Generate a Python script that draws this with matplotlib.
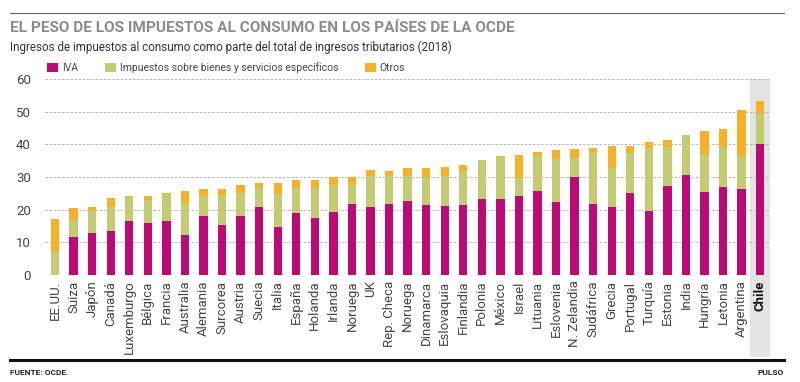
import matplotlib
matplotlib.use("Agg")
import matplotlib.pyplot as plt
from matplotlib.patches import Rectangle
from matplotlib.lines import Line2D
import numpy as np

plt.rcParams['font.family'] = ['Roboto', 'DejaVu Sans']

paises = ["EE.UU.", "Suiza", "Japón", "Canadá", "Luxemburgo", "Bélgica", "Francia",
          "Australia", "Alemania", "Surcorea", "Austria", "Suecia", "Italia", "España",
          "Holanda", "Irlanda", "Noruega", "UK", "Rep. Checa", "Noruega", "Dinamarca",
          "Eslovaquia", "Finlandia", "Polonia", "México", "Israel", "Lituania",
          "Eslovenia", "N. Zelandia", "Sudáfrica", "Grecia", "Portugal", "Turquía",
          "Estonia", "India", "Hungría", "Letonia", "Argentina", "Chile"]

iva = [0.0, 11.7, 13.0, 13.5, 16.5, 16.0, 16.5, 12.2, 18.2, 15.3, 18.2, 20.9, 14.8, 19.1,
       17.6, 19.4, 21.7, 20.8, 21.7, 22.7, 21.4, 21.1, 21.4, 23.2, 23.2, 24.3, 25.7,
       22.3, 30.1, 21.9, 20.9, 25.0, 19.7, 27.2, 30.6, 25.4, 26.9, 26.3, 40.1]

especificos = [7.1, 5.3, 6.8, 7.4, 7.5, 7.0, 8.3, 9.7, 6.0, 9.2, 6.8, 6.1, 9.9, 7.7,
               8.9, 8.2, 6.1, 9.6, 8.6, 7.6, 8.7, 9.3, 10.4, 12.0, 12.9, 5.3, 10.7,
               13.1, 5.8, 15.9, 11.8, 12.4, 19.1, 11.9, 12.3, 11.3, 12.2, 10.2, 9.6]

otros = [10.2, 3.6, 1.1, 2.6, 0.2, 1.2, 0.4, 3.8, 2.0, 1.8, 2.6, 1.1, 3.6, 2.3,
         2.6, 2.5, 2.3, 1.7, 1.6, 2.6, 2.6, 2.6, 1.9, 0.0, 0.2, 7.1, 1.4,
         2.9, 2.7, 1.0, 6.9, 2.2, 2.0, 2.2, 0.0, 7.5, 5.5, 14.0, 3.7]

c_iva = "#BD0A77"
c_esp = "#C4CB70"
c_otr = "#F8B124"

fig = plt.figure(figsize=(8, 3.82), dpi=100)
ax = fig.add_axes([0.056, 0.28, 0.907, 0.513])

x = np.arange(len(paises))
iva_a = np.array(iva)
esp_a = np.array(especificos)
otr_a = np.array(otros)
w = 0.45

# banda gris para Chile
ix_chile = paises.index("Chile")
ax.add_patch(Rectangle((ix_chile - 0.54, -0.42), 1.08, 1.42,
                       transform=ax.get_xaxis_transform(), clip_on=False,
                       facecolor="#E4E4E4", edgecolor="none", zorder=0))

ax.bar(x, iva_a, w, color=c_iva, zorder=3, label="IVA")
ax.bar(x, esp_a, w, bottom=iva_a, color=c_esp, zorder=3,
       label="Impuestos sobre bienes y servicios específicos")
ax.bar(x, otr_a, w, bottom=iva_a + esp_a, color=c_otr, zorder=3, label="Otros")

ax.set_ylim(0, 60)
ax.set_xlim(-0.55, len(paises) - 0.45)
ax.set_yticks(range(0, 61, 10))
ax.yaxis.grid(True, linestyle=(0, (3, 2)), color="#AAAAAA", linewidth=0.6, zorder=1)
for s in ax.spines.values():
    s.set_visible(False)
ax.tick_params(axis="both", length=0, colors="#444444")
ax.tick_params(axis="y", pad=10, labelsize=9.5)
ax.tick_params(axis="x", pad=4)
ax.set_xticks(x)
ax.set_xticklabels(paises, rotation=90, fontsize=9.5, color="#444444")
lbl = ax.get_xticklabels()[ix_chile]
lbl.set_fontweight("bold")
lbl.set_color("#111111")

ax.legend(loc="lower left", bbox_to_anchor=(-0.005, 1.0), ncol=3, frameon=False,
          fontsize=7.5, handlelength=1.0, handleheight=1.0, handletextpad=0.4,
          columnspacing=2.6, borderaxespad=0.2, labelcolor="#444444")

# líneas, títulos y fuente
fig.add_artist(Line2D([0.0125, 0.98], [0.966, 0.966], color="#666666", linewidth=0.8))
fig.text(0.0125, 0.927, "EL PESO DE LOS IMPUESTOS AL CONSUMO EN LOS PAÍSES DE LA OCDE",
         fontsize=11.1, fontweight="bold", color="#8C8C8C", va="center")
fig.text(0.0125, 0.877, "Ingresos de impuestos al consumo como parte del total de ingresos tributarios (2018)",
         fontsize=8.4, color="#333333", va="center")
fig.add_artist(Line2D([0.0125, 0.98], [0.058, 0.058], color="#111111", linewidth=2.2))
fig.text(0.0125, 0.026, "FUENTE: OCDE.", fontsize=6, fontweight="bold", color="#222222", va="center")
fig.text(0.98, 0.026, "PULSO", fontsize=6, fontweight="bold", color="#222222", va="center", ha="right")

fig.savefig("out.png", dpi=100)
